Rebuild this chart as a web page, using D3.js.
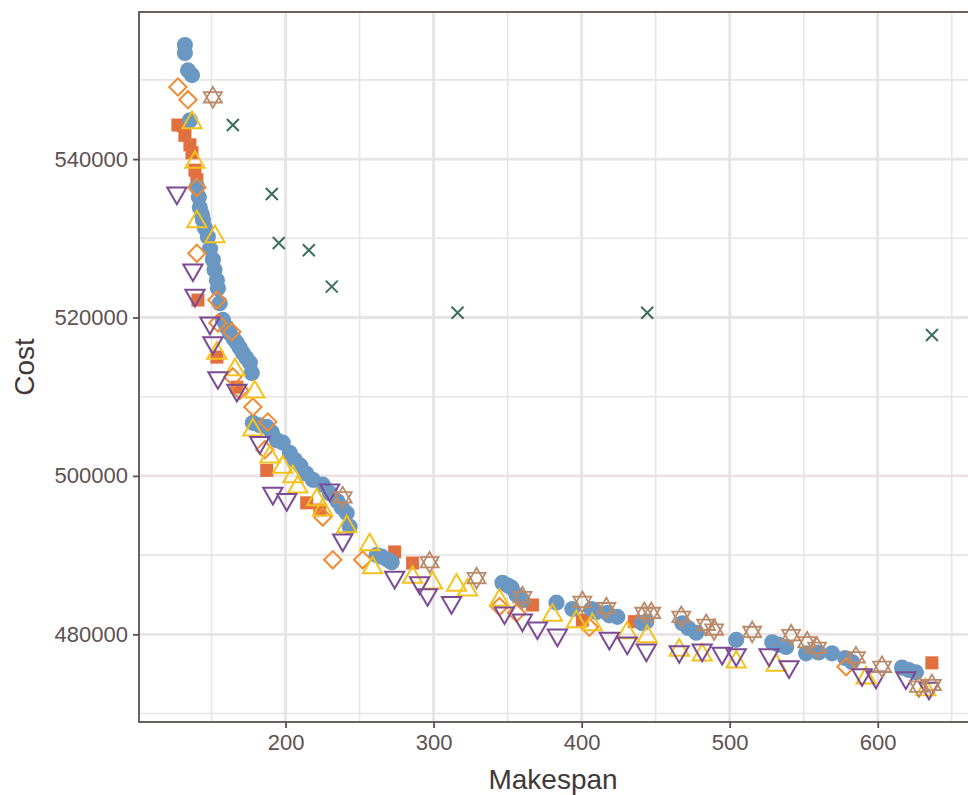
<!DOCTYPE html>
<html>
<head>
<meta charset="utf-8">
<script src="https://cdn.jsdelivr.net/npm/d3@7"></script>
<style>
  html, body { margin: 0; padding: 0; background: #fff; }
  svg { display: block; font-family: "Liberation Sans", Arial, sans-serif; }
</style>
</head>
<body>
<svg id="chart" width="968" height="795"></svg>
<script>
// ---- data: [makespan, cost] per solver ----
const seriesSquare = [
  [127.3,544300],[131.0,544200],[132.0,543000],[135.4,541800],[136.8,540800],[138.8,538600],[140.1,537400],
  [140.8,522200],[153.6,515000],[167.1,511200],[187.3,500700],[214.3,496600],[223.1,495700],
  [273.7,490400],[285.8,489000],[366.8,483700],[400.5,481800],[435.6,481600],[636.6,476400]
];
const seriesCircle = [
  [132.0,554400],[132.0,553400],[134.1,551200],[136.8,550600],[135.4,544900],[140.1,536500],
  [141.4,535200],[142.1,533900],[143.5,533000],[144.2,532300],[145.5,531300],[147.5,530200],
  [149.0,528700],[150.9,527300],[152.0,526000],[153.6,524700],[154.3,523700],[155.5,521800],
  [157.7,519700],[160.0,518800],[162.4,518000],[165.0,517300],[167.1,516800],[169.0,516200],
  [171.2,515500],[173.5,514900],[175.9,514300],[177.2,513000],
  [177.9,506700],[182.6,506400],[187.3,506200],[190.7,505500],[194.1,504500],[198.1,504200],
  [202.9,502900],[206.3,502000],[210.0,501300],[214.0,500300],[218.4,499500],[225.1,498900],
  [230.0,497800],[235.0,496800],[238.0,496000],[241.3,495300],[243.3,493600],
  [261.5,490000],[265.0,489800],[269.0,489400],[271.7,489100],[346.5,486500],[350.0,486200],
  [352.6,485900],[356.0,485000],[360.0,484300],[383.0,484000],[393.7,483200],[406.6,483200],
  [409.9,482800],[417.4,482700],[418.7,482400],[424.1,482200],[441.0,481400],[443.7,481600],
  [468.0,481400],[472.0,480800],[477.4,480200],[504.4,479300],[528.7,479000],[533.0,478700],
  [538.1,478400],[551.6,477600],[560.0,477700],[569.1,477600],[578.0,477000],[582.6,476500],
  [616.4,475800],[621.0,475500],[625.8,475200]
];
const seriesDiamond = [
  [127.3,549100],[134.1,547500],[140.1,536400],[140.1,528100],[153.6,522200],[154.3,519300],
  [163.7,518200],[164.4,512500],[169.1,510800],[177.9,508700],[188.0,506800],[186.0,503300],
  [225.1,494800],[231.9,489400],[252.1,489400],[344.5,483500],[356.0,482700],[405.2,480900],
  [578.6,475900]
];
const seriesTriUp = [
  [136.8,544600],[138.8,539600],[140.1,532100],[152.3,530200],[153.6,515500],[165.8,513400],
  [179.2,510600],[177.9,505800],[189.4,502400],[198.1,501100],[204.9,499900],[208.3,498600],
  [221.1,497000],[225.1,495700],[241.3,493600],[256.8,491300],[258.8,488400],[285.8,487200],
  [299.3,486500],[315.5,486200],[322.9,485600],[344.5,484300],[380.3,482400],[396.4,481600],
  [407.2,481200],[430.8,480200],[444.3,479700],[465.9,478000],[481.4,477400],[504.4,476500],
  [531.4,476100],[592.1,474500],[632.5,473000]
];
const seriesTriDown = [
  [126.6,535700],[137.4,526000],[138.8,522800],[148.9,519300],[150.9,516800],[154.3,512400],
  [167.1,510800],[182.6,504200],[191.4,497800],[200.8,497000],[229.8,498200],[238.6,491900],
  [273.7,487200],[290.5,486500],[295.9,485000],[312.1,484000],[347.9,482700],[360.0,481800],
  [370.1,480800],[383.6,479900],[418.7,479500],[430.8,478900],[443.7,478000],[465.9,477800],
  [481.4,478000],[494.9,477600],[504.4,477400],[526.6,477400],[540.1,475900],[589.4,474900],
  [598.8,474600],[619.0,474500],[634.6,473200]
];
const seriesStar = [
  [150.9,547800],[238.6,497300],[297.3,489100],[329.0,487100],[360.0,484700],[400.5,484100],
  [416.7,483300],[442.3,482700],[447.0,482700],[467.3,482200],[484.1,481200],[489.5,480600],
  [515.2,480300],[541.5,479900],[552.3,479000],[559.0,478300],[585.3,477100],[602.9,475900],
  [627.8,473400],[636.6,473600]
];
const seriesCross = [
  [164.4,544300],[190.7,535600],[195.4,529400],[215.7,528500],[231.2,523900],
  [316.2,520600],[444.3,520600],[636.6,517800]
];
const xTicks = [200, 300, 400, 500, 600];
const yTicks = [480000, 500000, 520000, 540000];
const xTitle = "Makespan";
const yTitle = "Cost";

// ---- layout ----
const svg = d3.select("#chart");
const panel = { left: 139, top: 12, right: 971, bottom: 722 };

const x = d3.scaleLinear().domain([101, 663]).range([panel.left, panel.right]);
const y = d3.scaleLinear().domain([468930, 558570]).range([panel.bottom, panel.top]);

const gridCol = "#e9e3e3";
const inkCol = "#5d5050";
const textCol = "#5e5151";

// grid: minor then major
const xMinor = d3.range(150, 700, 100);
const yMinor = d3.range(470000, 560000, 20000);
const grid = svg.append("g");
grid.selectAll(".xm").data(xMinor).join("line")
  .attr("x1", d => x(d)).attr("x2", d => x(d))
  .attr("y1", panel.top).attr("y2", panel.bottom)
  .attr("stroke", gridCol).attr("stroke-width", 1.6);
grid.selectAll(".ym").data(yMinor).join("line")
  .attr("y1", d => y(d)).attr("y2", d => y(d))
  .attr("x1", panel.left).attr("x2", panel.right)
  .attr("stroke", gridCol).attr("stroke-width", 1.6);
grid.selectAll(".xM").data(xTicks).join("line")
  .attr("x1", d => x(d)).attr("x2", d => x(d))
  .attr("y1", panel.top).attr("y2", panel.bottom)
  .attr("stroke", gridCol).attr("stroke-width", 2.8);
grid.selectAll(".yM").data(yTicks).join("line")
  .attr("y1", d => y(d)).attr("y2", d => y(d))
  .attr("x1", panel.left).attr("x2", panel.right)
  .attr("stroke", gridCol).attr("stroke-width", 2.8);

// ---- marks ----
const pts = svg.append("g");
const sym = (type, size) => d3.symbol().type(type).size(size)();
const crossPath = "M-6,-6L6,6M-6,6L6,-6";

function drawSeries(data, pathD, opts) {
  pts.append("g").selectAll("path").data(data).join("path")
    .attr("transform", d => `translate(${x(d[0])},${y(d[1])})${opts.rotate ? " rotate(" + opts.rotate + ")" : ""}`)
    .attr("d", pathD)
    .attr("fill", opts.fill || "none")
    .attr("stroke", opts.stroke || "none")
    .attr("stroke-width", opts.sw || 0);
}

drawSeries(seriesSquare, sym(d3.symbolSquare, 170), { fill: "#e2703e" });
drawSeries(seriesCircle, sym(d3.symbolCircle, 205), { fill: "#6b98c3" });
drawSeries(seriesDiamond, sym(d3.symbolSquare, 150), { stroke: "#f28a33", sw: 2, rotate: 45 });
drawSeries(seriesTriUp, sym(d3.symbolTriangle, 160), { stroke: "#f4c21c", sw: 2 });
drawSeries(seriesTriDown, sym(d3.symbolTriangle, 160), { stroke: "#7d4a94", sw: 2, rotate: 180 });
// star: overlaid up and down triangles
drawSeries(seriesStar, sym(d3.symbolTriangle, 140), { stroke: "#b98a6a", sw: 1.8 });
drawSeries(seriesStar, sym(d3.symbolTriangle, 140), { stroke: "#b98a6a", sw: 1.8, rotate: 180 });
drawSeries(seriesCross, crossPath, { stroke: "#3c6e5c", sw: 2 });

// ---- panel border ----
svg.append("rect")
  .attr("x", panel.left).attr("y", panel.top)
  .attr("width", panel.right - panel.left).attr("height", panel.bottom - panel.top)
  .attr("fill", "none").attr("stroke", inkCol).attr("stroke-width", 1.8);

// ---- axes ----
const xAxis = svg.append("g").attr("transform", `translate(0,${panel.bottom})`)
  .call(d3.axisBottom(x).tickValues(xTicks).tickSize(6).tickPadding(6).tickFormat(d3.format("d")));
const yAxis = svg.append("g").attr("transform", `translate(${panel.left},0)`)
  .call(d3.axisLeft(y).tickValues(yTicks).tickSize(6).tickPadding(5).tickFormat(d3.format("d")));
[xAxis, yAxis].forEach(a => {
  a.select(".domain").remove();
  a.selectAll(".tick line").attr("stroke", inkCol).attr("stroke-width", 1.8);
  a.selectAll(".tick text").attr("fill", textCol).style("font-size", "22px")
    .style("font-family", "'Liberation Sans', Arial, sans-serif");
});

svg.append("text").attr("x", 553).attr("y", 789)
  .attr("text-anchor", "middle").attr("fill", "#433838")
  .style("font-size", "28px").text(xTitle);
svg.append("text").attr("transform", `translate(34,${(panel.top + panel.bottom) / 2}) rotate(-90)`)
  .attr("text-anchor", "middle").attr("fill", "#433838")
  .style("font-size", "28px").text(yTitle);
</script>
</body>
</html>
